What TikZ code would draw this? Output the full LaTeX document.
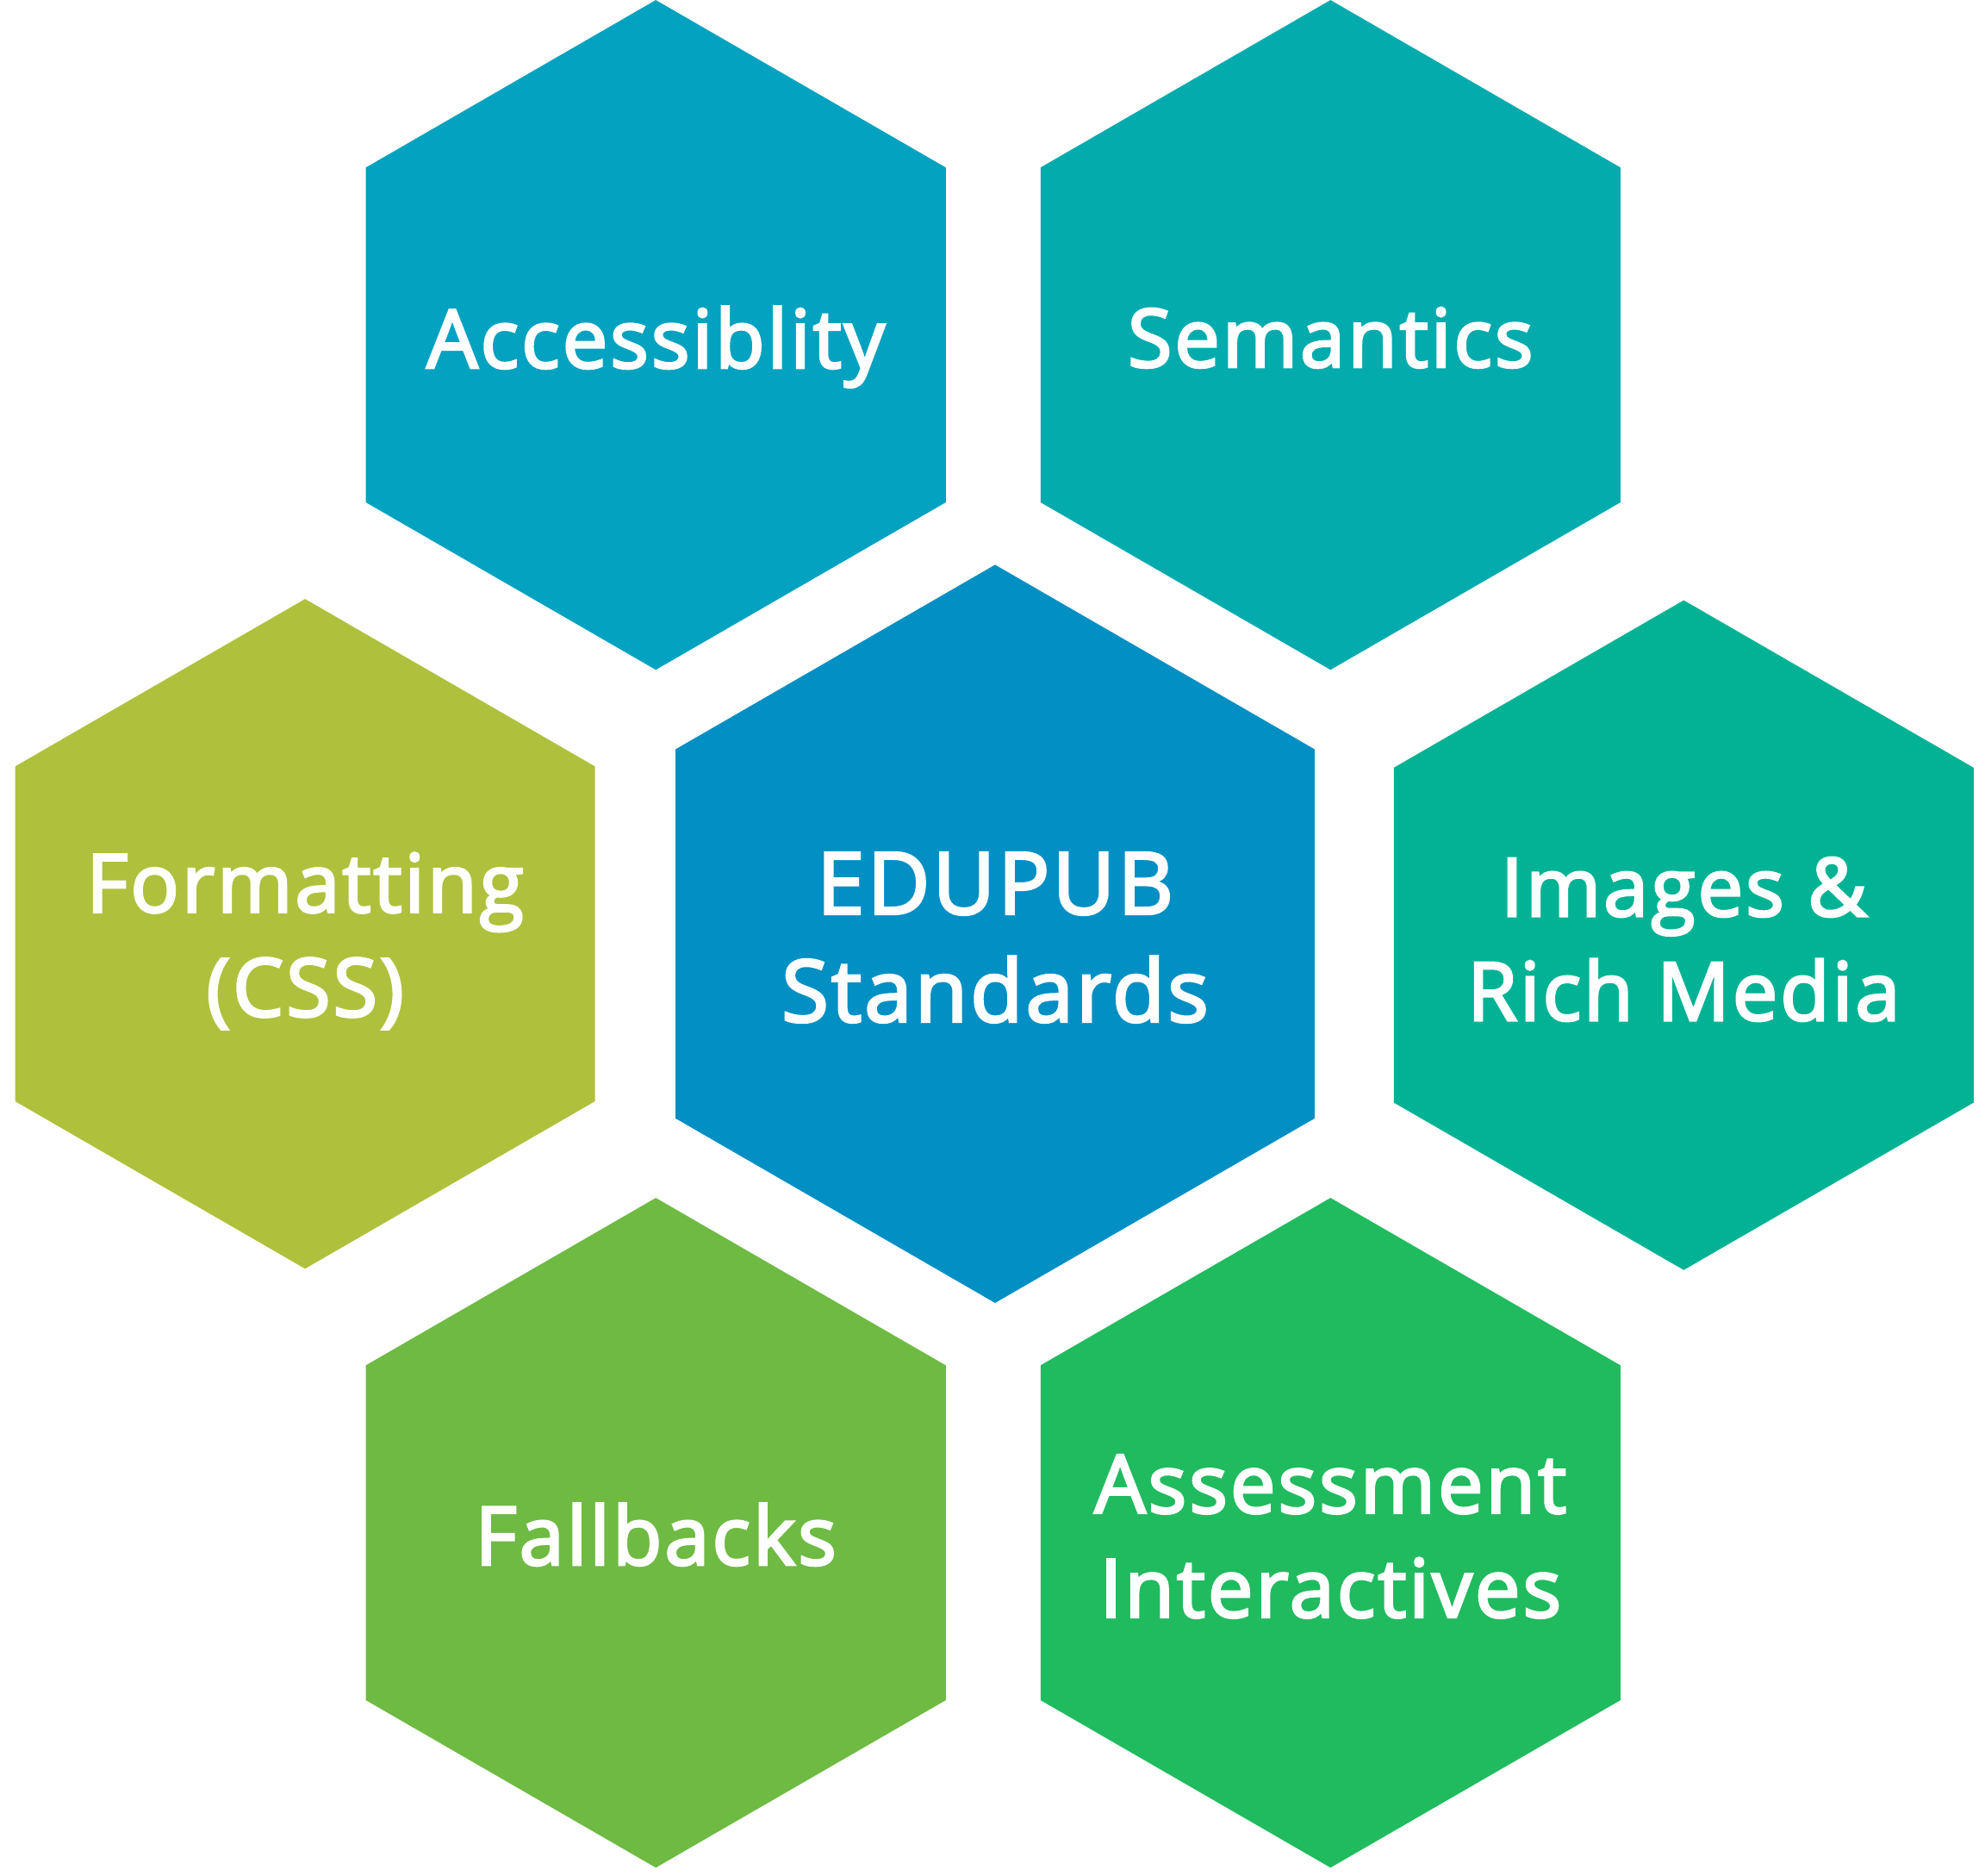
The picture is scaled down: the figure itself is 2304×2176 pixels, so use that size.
\documentclass[tikz,border=0pt]{standalone}
\usepackage{fontspec}
\setmainfont{Open Sans}[LetterSpace=3,FakeBold=3]
\definecolor{cAcc}{HTML}{03A2C0}
\definecolor{cSem}{HTML}{03ABAD}
\definecolor{cForm}{HTML}{AFC13C}
\definecolor{cCen}{HTML}{028FC4}
\definecolor{cImg}{HTML}{02B294}
\definecolor{cFall}{HTML}{6EBA43}
\definecolor{cAss}{HTML}{20BB5E}
\newcommand{\hexfill}[4]{% color, x, y, R
  \fill[#1] (#2,#3) +(90:#4) -- +(150:#4) -- +(210:#4) -- +(270:#4) -- +(330:#4) -- +(30:#4) -- cycle;}
\begin{document}
\begin{tikzpicture}[x=1pt,y=1pt,
  lbl/.style={text=white,align=center,inner sep=0pt,font=\fontsize{94}{121}\selectfont},
  biglbl/.style={lbl,font=\fontsize{100}{125}\selectfont}]
\useasboundingbox (0,0) rectangle (2304,2176);
\hexfill{cAcc}{761.2}{1787.3}{388.6}
\hexfill{cSem}{1544.3}{1787.3}{388.6}
\hexfill{cForm}{354.1}{1092.3}{388.6}
\hexfill{cCen}{1155.0}{1092.3}{428.3}
\hexfill{cImg}{1954.3}{1090.8}{388.6}
\hexfill{cFall}{761.2}{397.3}{388.6}
\hexfill{cAss}{1544.3}{397.3}{388.6}
\node[lbl,anchor=base] (acc) at (761.2,1749) {Accessiblity};
\node[lbl,anchor=base] (sem) at (1544.3,1750) {Semantics};
\node[lbl] (form) at (354.1,1084) {Formatting\\(CSS)};
\node[biglbl] (cen) at (1155.0,1088) {EDUPUB\\Standards};
\node[lbl] (img) at (1954.3,1086) {Images \&\\Rich Media};
\node[lbl,anchor=base] (fall) at (761.2,360) {Fallbacks};
\node[lbl] (ass) at (1544.3,393) {Assessment\\Interactives};
\end{tikzpicture}
\end{document}
